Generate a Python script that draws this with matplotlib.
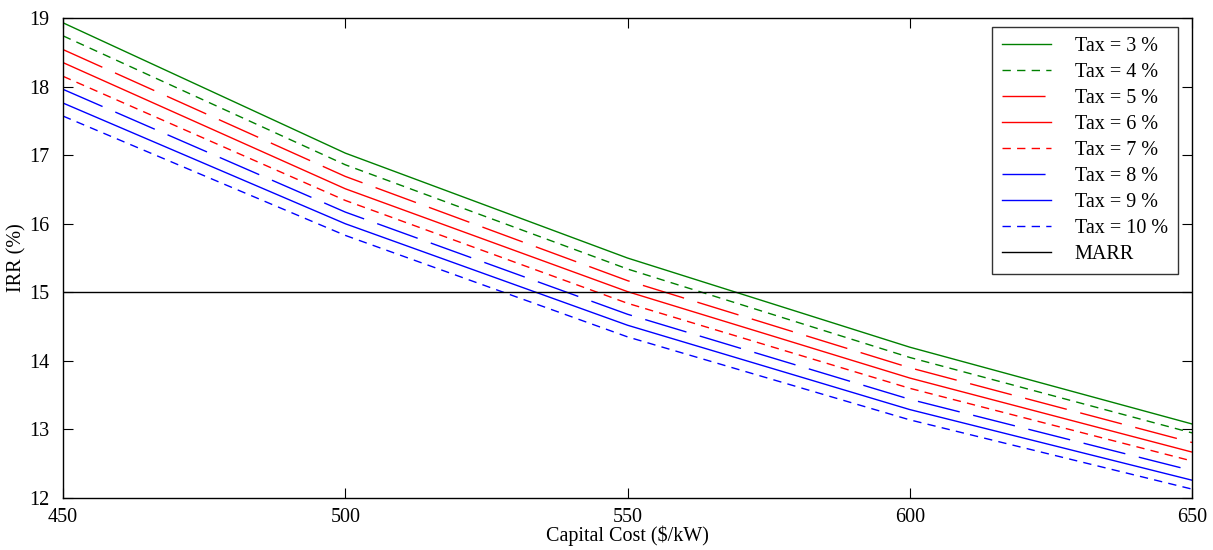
import matplotlib.pyplot as plt
import numpy as np

plt.rcParams["font.family"] = ["Liberation Serif", "DejaVu Serif"]

capital_cost = [450, 500, 550, 600, 650]
tax_labels = ["Tax = 3 %", "Tax = 4 %", "Tax = 5 %", "Tax = 6 %",
              "Tax = 7 %", "Tax = 8 %", "Tax = 9 %", "Tax = 10 %"]
irr_tax3 = [18.93, 17.03, 15.50, 14.20, 13.08]
irr_tax4 = [18.74, 16.86, 15.34, 14.05, 12.95]
irr_tax5 = [18.54, 16.69, 15.17, 13.90, 12.81]
irr_tax6 = [18.35, 16.51, 15.01, 13.75, 12.67]
irr_tax7 = [18.15, 16.34, 14.84, 13.60, 12.54]
irr_tax8 = [17.96, 16.17, 14.68, 13.44, 12.40]
irr_tax9 = [17.76, 16.00, 14.52, 13.29, 12.26]
irr_tax10 = [17.57, 15.83, 14.35, 13.14, 12.13]
marr = 15.0

series = [irr_tax3, irr_tax4, irr_tax5, irr_tax6, irr_tax7, irr_tax8, irr_tax9, irr_tax10]

green, red, blue = "#008000", "#ff0000", "#0000ff"
short_dash = (6, 4.5)
long_dash = (31, 10)
styles = [
    (green, None),
    (green, short_dash),
    (red, long_dash),
    (red, None),
    (red, short_dash),
    (blue, long_dash),
    (blue, None),
    (blue, short_dash),
]

fig = plt.figure(figsize=(12.13, 5.5), dpi=100)
ax = fig.add_axes([0.052, 0.0945, 0.9307, 0.8727])

for vals, label, (color, dash) in zip(series, tax_labels, styles):
    line, = ax.plot(capital_cost, vals, color=color, lw=1.0, label=label)
    if dash is not None:
        line.set_dashes(dash)

ax.axhline(marr, color="black", lw=1.0, label="MARR")

ax.set_xlim(450, 650)
ax.set_ylim(12, 19)
ax.set_xticks(np.arange(450, 651, 50))
ax.set_yticks(np.arange(12, 20, 1))
ax.tick_params(direction="in", top=True, right=True, length=7, width=0.8,
               labelsize=14.5)
ax.tick_params(axis="x", pad=7)
ax.tick_params(axis="y", pad=10)
for sp in ax.spines.values():
    sp.set_linewidth(1.0)

ax.set_xlabel("Capital Cost ($/kW)", fontsize=14.5, labelpad=-1)
ax.set_ylabel("IRR (%)", fontsize=14.5, labelpad=2)

leg = ax.legend(loc="upper right", bbox_to_anchor=(0.9876, 0.981), borderaxespad=0,
                fontsize=14.5, frameon=True, fancybox=False, edgecolor="black",
                handlelength=2.4, handletextpad=1.2, labelspacing=0.34, borderpad=0.5)
leg.get_frame().set_linewidth(1.0)

fig.savefig("out.png", dpi=100)
